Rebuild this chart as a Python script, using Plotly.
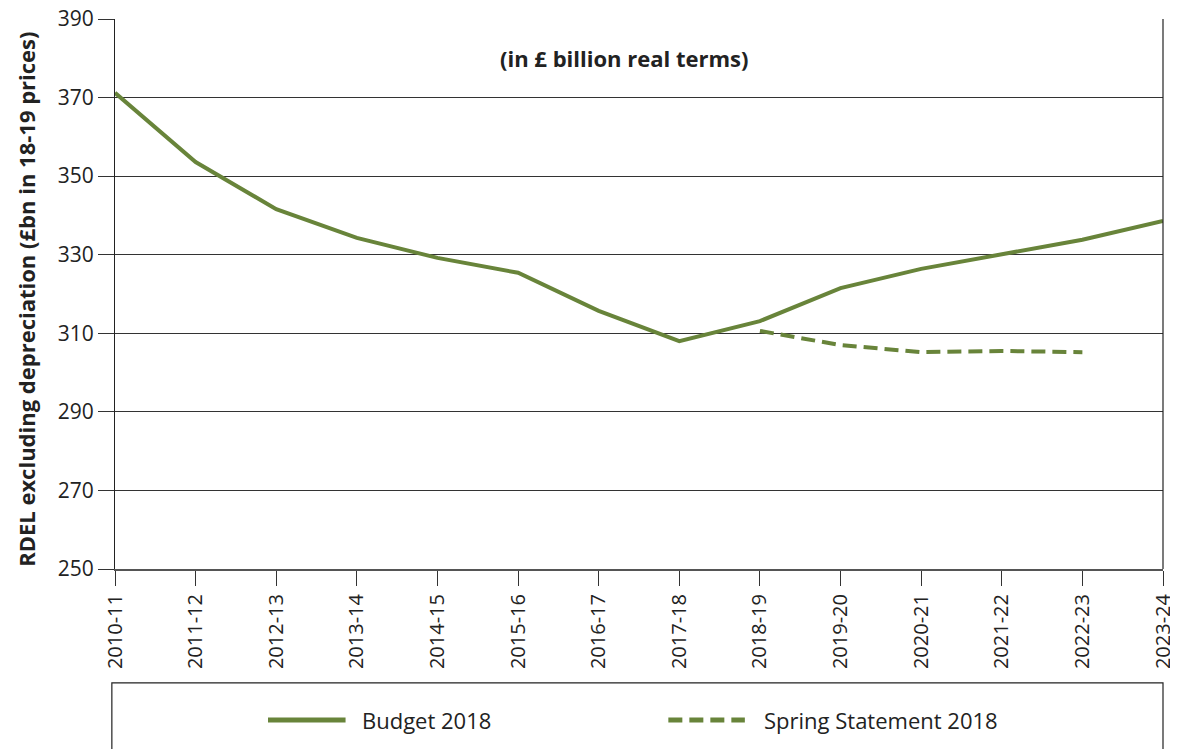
import plotly.graph_objects as go

years = ['2010-11', '2011-12', '2012-13', '2013-14', '2014-15', '2015-16', '2016-17',
         '2017-18', '2018-19', '2019-20', '2020-21', '2021-22', '2022-23', '2023-24']
budget_2018 = [371.2, 353.6, 341.6, 334.3, 329.2, 325.4, 315.7,
               308.0, 313.1, 321.5, 326.4, 330.0, 333.8, 338.6]
spring_years = ['2018-19', '2019-20', '2020-21', '2021-22', '2022-23']
spring_2018 = [310.6, 307.0, 305.2, 305.5, 305.2]
y_ticks = [250, 270, 290, 310, 330, 350, 370, 390]

green = '#68843a'
dark = '#222222'
font_main = 'Open Sans, Liberation Sans, sans-serif'
dash_style = '14px,7px'

line1 = go.Scatter(x=years, y=budget_2018, name='Budget 2018', mode='lines',
                   line=dict(color=green, width=4), showlegend=False)
line2 = go.Scatter(x=spring_years, y=spring_2018, name='Spring Statement 2018', mode='lines',
                   line=dict(color=green, width=4, dash=dash_style), showlegend=False)
fig = go.Figure([line1, line2])

# hand-drawn legend box (wide symbols like the original)
legend_y = -0.2745
shapes = [
    dict(type='rect', xref='paper', yref='paper', x0=-0.003, x1=1.0,
         y0=-0.45, y1=-0.207, line=dict(color=dark, width=1.2)),
    dict(type='line', xref='paper', yref='paper', x0=0.146, x1=0.220,
         y0=legend_y, y1=legend_y, line=dict(color=green, width=5)),
    dict(type='line', xref='paper', yref='paper', x0=0.528, x1=0.601,
         y0=legend_y, y1=legend_y, line=dict(color=green, width=5, dash=dash_style)),
    dict(type='line', xref='paper', yref='paper', x0=1, x1=1, y0=0, y1=1,
         line=dict(color=dark, width=1.2)),
]
annotations = [
    dict(text='<b>(in £ billion real terms)</b>', x=0.486, y=0.929,
         xref='paper', yref='paper', showarrow=False, xanchor='center', yanchor='middle',
         font=dict(size=22, color=dark)),
    dict(text='<b>RDEL excluding depreciation (£bn in 18-19 prices)</b>',
         x=-0.085, y=0.491, xref='paper', yref='paper', showarrow=False,
         xanchor='center', yanchor='middle',
         textangle=-90, font=dict(size=22, color=dark)),
    dict(text='Budget 2018', x=0.234, y=legend_y, xref='paper', yref='paper',
         xanchor='left', yanchor='middle', showarrow=False, font=dict(size=22, color=dark)),
    dict(text='Spring Statement 2018', x=0.617, y=legend_y, xref='paper', yref='paper',
         xanchor='left', yanchor='middle', showarrow=False, font=dict(size=22, color=dark)),
]

# the page has an 8px body margin, so the figure is 8px smaller and margins shifted
fig.update_layout(
    width=1170, height=741,
    margin=dict(l=107, r=15, t=11, b=180, autoexpand=False),
    plot_bgcolor='white', paper_bgcolor='white',
    font=dict(family=font_main, color=dark),
    showlegend=False,
    annotations=annotations,
    shapes=shapes,
)
fig.update_xaxes(
    type='category', range=[0, 13], tickangle=-90, automargin=False,
    showline=True, linecolor='#555555', linewidth=2,
    ticks='outside', ticklen=15, tickcolor='#333333',
    showgrid=False, tickfont=dict(size=20, color=dark),
    ticklabeloverflow='allow',
)
fig.update_yaxes(
    range=[250, 390], tickvals=y_ticks, automargin=False,
    showline=True, linecolor=dark, linewidth=1.2,
    ticks='outside', ticklen=16, tickcolor='#333333',
    showgrid=True, gridcolor='#333333', gridwidth=1,
    zeroline=False, tickfont=dict(size=21, color=dark),
    ticklabeloverflow='allow',
)

fig.write_html('out.html')
